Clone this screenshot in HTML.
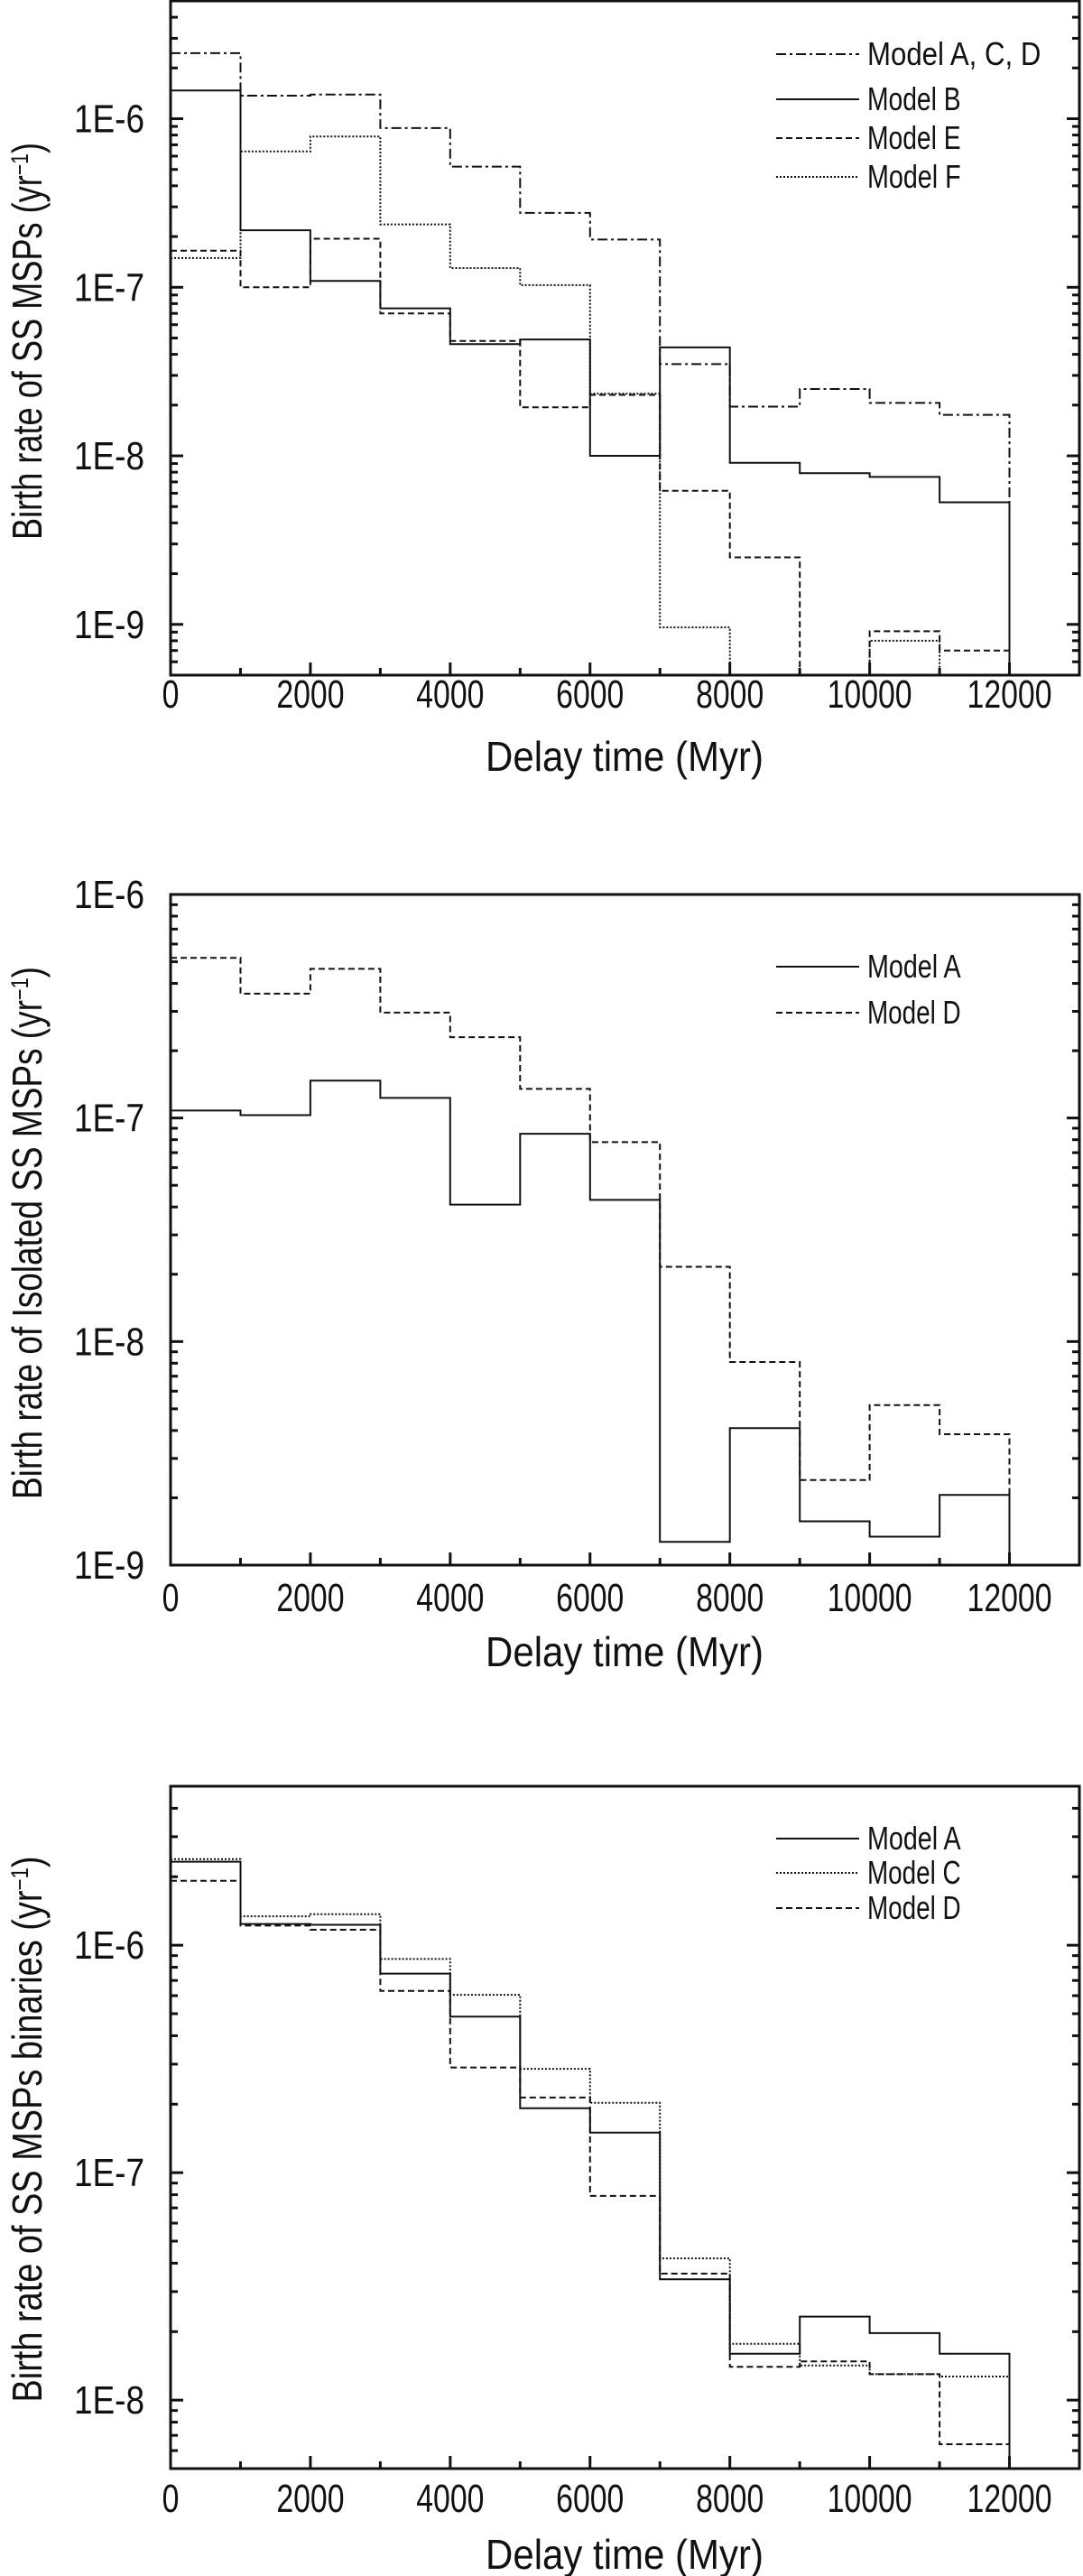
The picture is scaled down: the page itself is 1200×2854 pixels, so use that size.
<!DOCTYPE html>
<html><head><meta charset="utf-8"><style>
html,body{margin:0;padding:0;background:#fff;}
svg{display:block;}
text{font-family:"Liberation Sans",sans-serif;fill:#111;}
</style></head><body>
<svg id="fig" width="1200" height="2854" viewBox="0 0 1200 2854" xmlns="http://www.w3.org/2000/svg"></svg>
<script>
// ---- data ----
const binStarts = [0,1000,2000,3000,4000,5000,6000,7000,8000,9000,10000,11000];
const xTicks = [0,2000,4000,6000,8000,10000,12000];
const xTickLabels = ["0","2000","4000","6000","8000","10000","12000"];
// panel 1
const p1ModelACD = [2.45e-6,1.37e-6,1.39e-6,8.8e-7,5.2e-7,2.76e-7,1.92e-7,3.5e-8,1.96e-8,2.49e-8,2.06e-8,1.75e-8];
const p1ModelB = [1.47e-6,2.18e-7,1.09e-7,7.5e-8,4.6e-8,4.9e-8,1.0e-8,4.4e-8,9.1e-9,7.9e-9,7.5e-9,5.3e-9];
const p1ModelE = [1.65e-7,1.0e-7,1.94e-7,7.0e-8,4.8e-8,1.94e-8,2.3e-8,6.2e-9,2.5e-9,1e-11,9.1e-10,7.0e-10];
const p1ModelF = [1.49e-7,6.4e-7,7.85e-7,2.36e-7,1.3e-7,1.03e-7,2.34e-8,9.6e-10,1e-11,1e-11,8.0e-10,1e-11];
const p1YTicks = ["1E-6","1E-7","1E-8","1E-9"];
// panel 2
const p2ModelA = [1.08e-7,1.03e-7,1.47e-7,1.23e-7,4.1e-8,8.5e-8,4.3e-8,1.27e-9,4.1e-9,1.57e-9,1.34e-9,2.06e-9];
const p2ModelD = [5.2e-7,3.6e-7,4.65e-7,2.96e-7,2.3e-7,1.35e-7,7.8e-8,2.16e-8,8.1e-9,2.4e-9,5.2e-9,3.85e-9];
const p2YTicks = ["1E-6","1E-7","1E-8","1E-9"];
// panel 3
const p3ModelA = [2.33e-6,1.24e-6,1.23e-6,7.5e-7,4.85e-7,1.92e-7,1.5e-7,3.4e-8,1.6e-8,2.33e-8,1.97e-8,1.6e-8];
const p3ModelC = [2.39e-6,1.34e-6,1.37e-6,8.7e-7,6.05e-7,2.86e-7,2.03e-7,4.2e-8,1.77e-8,1.42e-8,1.3e-8,1.27e-8];
const p3ModelD = [1.92e-6,1.22e-6,1.17e-6,6.3e-7,2.9e-7,2.14e-7,7.9e-8,3.6e-8,1.4e-8,1.48e-8,1.3e-8,6.4e-9];
const p3YTicks = ["1E-6","1E-7","1E-8"];

const NS='http://www.w3.org/2000/svg';
const svg=document.getElementById('fig');
function mk(tag,attrs,parent){const e=document.createElementNS(NS,tag);for(const k in attrs)e.setAttribute(k,attrs[k]);(parent||svg).appendChild(e);return e;}
const DASH={solid:'',dashdot:'11 4 3 4',dashed:'7 4',dotted:'2 2'};

function panel(cfg){
  const g=mk('g',{});
  
  
  const L=189,R=1196,T=cfg.top,B=cfg.bottom;
  const lmin=cfg.logMin,lmax=cfg.logMax;
  const xs=v=>L+(v/13000)*(R-L);
  const ys=v=>B-(Math.log10(v)-lmin)/(lmax-lmin)*(B-T);
  const cid='clip'+cfg.id;
  const cp=mk('clipPath',{id:cid},g);mk('rect',{x:L,y:T,width:R-L,height:B-T},cp);
  cfg.series.forEach(s=>{
    let d='';
    s.values.forEach((v,i)=>{
      const y=ys(Math.max(v,1e-14));
      const x0=xs(binStarts[i]),x1=xs(binStarts[i]+1000);
      d+=(i===0?'M':'L')+x0.toFixed(1)+' '+y.toFixed(1)+' L'+x1.toFixed(1)+' '+y.toFixed(1)+' ';
    });
    d+='L'+xs(12000).toFixed(1)+' '+(B+20);
    const p=mk('path',{d:d,fill:'none',stroke:'#111','stroke-width':2,'stroke-dasharray':DASH[s.style],'clip-path':'url(#'+cid+')'},g);
    
    
  });
  const fr=mk('rect',{x:L,y:T,width:R-L,height:B-T,fill:'none',stroke:'#111','stroke-width':3},g);
  
  
  for(let e=Math.floor(lmin);e<=Math.ceil(lmax);e++){
    for(let m=1;m<10;m++){
      const lv=e+Math.log10(m);
      if(lv<lmin-1e-6||lv>lmax+1e-6)continue;
      const y=B-(lv-lmin)/(lmax-lmin)*(B-T);
      const len=m===1?14:8;
      mk('line',{x1:L,x2:L+len,y1:y,y2:y,stroke:'#111','stroke-width':3},g);
      mk('line',{x1:R-len,x2:R,y1:y,y2:y,stroke:'#111','stroke-width':3},g);
    }
  }
  cfg.yTicks.forEach(lbl=>{
    const v=parseFloat(lbl);
    const t=mk('text',{x:160,y:ys(v)+15,'text-anchor':'end','font-size':44,textLength:78,lengthAdjust:'spacingAndGlyphs'},g);
    t.textContent=lbl;
    
    
  });
  for(let v=0;v<=13000;v+=1000){
    const x=xs(v);const len=(v%2000===0)?14:8;
    mk('line',{x1:x,x2:x,y1:B-len,y2:B,stroke:'#111','stroke-width':3},g);
  }
  xTicks.forEach((v,i)=>{
    const lbl=xTickLabels[i];
    const t=mk('text',{x:xs(v),y:cfg.xLabelY,'text-anchor':'middle','font-size':44,textLength:lbl.length*18.8,lengthAdjust:'spacingAndGlyphs'},g);
    t.textContent=lbl;
    
    
  });
  const xt=mk('text',{x:692,y:cfg.xTitleY,'text-anchor':'middle','font-size':46,textLength:308,lengthAdjust:'spacingAndGlyphs'},g);
  xt.textContent='Delay time (Myr)';
  
  
  const yt=mk('text',{x:0,y:0,'text-anchor':'middle','font-size':46,textLength:cfg.yTitleLen,lengthAdjust:'spacingAndGlyphs',transform:'translate(46,'+cfg.yTitleCY+') rotate(-90)'},g);
  yt.appendChild(document.createTextNode(cfg.yTitle+' (yr'));
  const sup=mk('tspan',{'baseline-shift':'super','font-size':27},yt);sup.textContent='−1';
  const cl=mk('tspan',{},yt);cl.textContent=')';
  
  
  const lg=mk('g',{},g);
  
  
  cfg.series.forEach((s,i)=>{
    const y=cfg.legendY[i];
    const e=mk('g',{},lg);
    
    
    mk('line',{x1:860,x2:952,y1:y,y2:y,stroke:'#111','stroke-width':2,'stroke-dasharray':DASH[s.style]},e);
    const t=mk('text',{x:961,y:y+12,'font-size':36,textLength:s.label.length*14.8,lengthAdjust:'spacingAndGlyphs'},e);
    t.textContent=s.label;
  });
}

panel({id:1,name:'chart-ss-msps',top:1,bottom:748,logMin:Math.log10(5e-10),logMax:Math.log10(5e-6),
  yTicks:p1YTicks,xLabelY:784,xTitleY:854,yTitle:'Birth rate of SS MSPs',yTitleLen:440,yTitleCY:378,
  legendY:[60,110,153,196],
  series:[{key:'model-acd',label:'Model A, C, D',style:'dashdot',values:p1ModelACD},
          {key:'model-b',label:'Model B',style:'solid',values:p1ModelB},
          {key:'model-e',label:'Model E',style:'dashed',values:p1ModelE},
          {key:'model-f',label:'Model F',style:'dotted',values:p1ModelF}]});
panel({id:2,name:'chart-isolated-ss-msps',top:991,bottom:1734,logMin:-9,logMax:-6,
  yTicks:p2YTicks,xLabelY:1785,xTitleY:1846,yTitle:'Birth rate of Isolated SS MSPs',yTitleLen:590,yTitleCY:1366,
  legendY:[1071,1122],
  series:[{key:'model-a',label:'Model A',style:'solid',values:p2ModelA},
          {key:'model-d',label:'Model D',style:'dashed',values:p2ModelD}]});
panel({id:3,name:'chart-ss-msps-binaries',top:1979,bottom:2735,logMin:Math.log10(5e-9),logMax:Math.log10(5e-6),
  yTicks:p3YTicks,xLabelY:2783,xTitleY:2846,yTitle:'Birth rate of SS MSPs binaries',yTitleLen:605,yTitleCY:2359,
  legendY:[2037,2075,2114],
  series:[{key:'model-a',label:'Model A',style:'solid',values:p3ModelA},
          {key:'model-c',label:'Model C',style:'dotted',values:p3ModelC},
          {key:'model-d',label:'Model D',style:'dashed',values:p3ModelD}]});
</script>
</body></html>
